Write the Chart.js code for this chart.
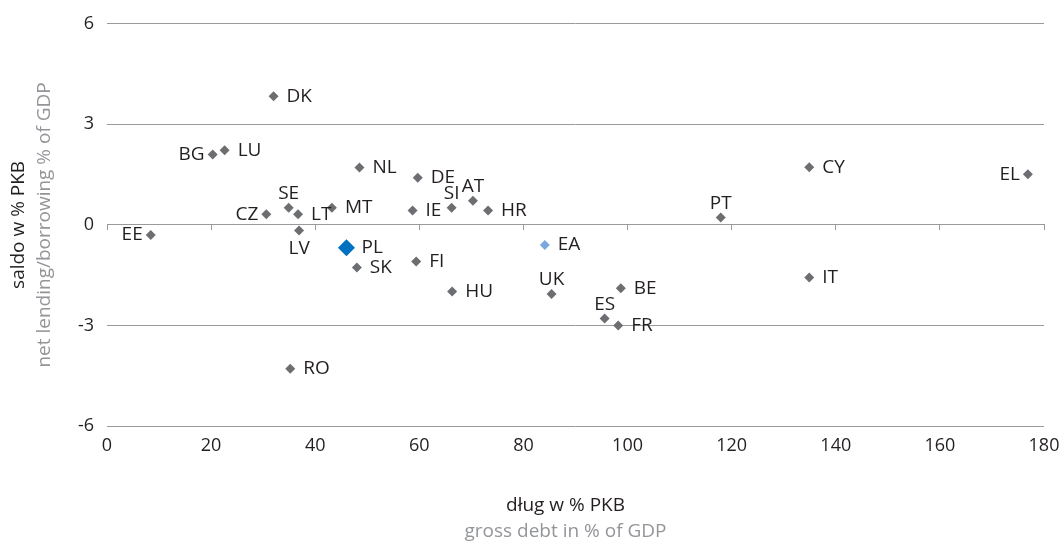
<!DOCTYPE html>
<html>
<head>
<meta charset="utf-8">
<script src="https://cdn.jsdelivr.net/npm/chart.js@4.4.1/dist/chart.umd.min.js"></script>
<style>
  html, body { margin: 0; padding: 0; background: #fff; }
</style>
</head>
<body>
<canvas id="debtChart" width="1064" height="544"></canvas>
<script>
// country codes, gross debt (% GDP) and net lending/borrowing (% GDP)
const countries = ['DK', 'BG', 'LU', 'NL', 'DE', 'CY', 'EL', 'SE', 'CZ', 'LT', 'MT', 'IE', 'SI', 'AT', 'HR',
  'PT', 'EE', 'LV', 'SK', 'FI', 'HU', 'UK', 'BE', 'IT', 'ES', 'FR', 'RO', 'EA', 'PL']
const debt = [32.0, 20.3, 22.6, 48.5, 59.7, 134.9, 176.9, 34.9, 30.6, 36.7, 43.2, 58.7, 66.2, 70.3, 73.2,
  117.9, 8.4, 36.9, 48.0, 59.4, 66.3, 85.4, 98.7, 134.9, 95.6, 98.2, 35.2, 84.1, 46.0]
const balance = [3.84, 2.10, 2.23, 1.71, 1.41, 1.72, 1.51, 0.51, 0.32, 0.32, 0.51, 0.43, 0.51, 0.72, 0.43,
  0.22, -0.30, -0.17, -1.27, -1.09, -1.99, -2.06, -1.89, -1.57, -2.79, -3.00, -4.29, -0.60, -0.68]
const xTicks = [0, 180, 20]
const yTicks = [-6, 6, 3]

// where a label sits next to its marker (default: right)
const labelSide = {BG: 'left', CZ: 'left', EE: 'left', EL: 'left', SE: 'top', SI: 'top', AT: 'top',
  PT: 'top', UK: 'top', ES: 'top', LV: 'bottom'}

const FONT = "'Open Sans', 'Noto Sans', sans-serif"
const DARK = '#231f20'
const GREY_TEXT = '#939598'
const GRID = '#9a9a9a'
const MARK = '#6d6e71'

const pointColor = (c) => c === 'PL' ? '#0070c0' : (c === 'EA' ? '#7ba7dc' : MARK)

const pointLabels = {
  id: 'pointLabels',
  afterDatasetsDraw(chart) {
    const ctx = chart.ctx
    const meta = chart.getDatasetMeta(0)
    ctx.save()
    ctx.font = '19px ' + FONT
    ctx.fillStyle = DARK
    ctx.textBaseline = 'middle'
    meta.data.forEach((pt, i) => {
      const side = labelSide[countries[i]] || 'right'
      let x = pt.x, y = pt.y
      if (side === 'right') { ctx.textAlign = 'left'; x += countries[i] === 'PL' ? 15 : 13 }
      if (side === 'left') { ctx.textAlign = 'right'; x -= 8 }
      if (side === 'top') { ctx.textAlign = 'center'; y -= 14 }
      if (side === 'bottom') { ctx.textAlign = 'center'; y += 18 }
      ctx.fillText(countries[i], x, y)
    })
    ctx.restore()
  }
}

const axisTitles = {
  id: 'axisTitles',
  afterDraw(chart) {
    const ctx = chart.ctx
    const a = chart.chartArea
    const midY = (a.top + a.bottom) / 2
    const midX = (a.left + a.right) / 2
    ctx.save()
    ctx.font = '19px ' + FONT
    ctx.textAlign = 'center'
    ctx.textBaseline = 'middle'
    ctx.fillStyle = DARK
    ctx.fillText('dług w % PKB', midX - 10, 506)
    ctx.fillStyle = GREY_TEXT
    ctx.fillText('gross debt in % of GDP', midX - 10, 532)
    ctx.translate(19, midY)
    ctx.rotate(-Math.PI / 2)
    ctx.fillStyle = DARK
    ctx.fillText('saldo w % PKB', 0, 0)
    ctx.fillStyle = GREY_TEXT
    ctx.fillText('net lending/borrowing % of GDP', 0, 26)
    ctx.restore()
  }
}

new Chart(document.getElementById('debtChart'), {
  type: 'scatter',
  data: {
    datasets: [{
      data: countries.map((c, i) => ({x: debt[i], y: balance[i]})),
      pointStyle: 'rectRot',
      pointRadius: (ctx) => countries[ctx.dataIndex] === 'PL' ? 8.5 : 5,
      pointBackgroundColor: (ctx) => pointColor(countries[ctx.dataIndex]),
      pointBorderColor: (ctx) => pointColor(countries[ctx.dataIndex]),
      pointBorderWidth: 0,
    }],
  },
  options: {
    responsive: false,
    animation: false,
    layout: {padding: {top: 23, right: 20, left: 0, bottom: 0}},
    plugins: {legend: {display: false}, tooltip: {enabled: false}},
    scales: {
      x: {
        type: 'linear',
        min: xTicks[0],
        max: xTicks[1],
        ticks: {stepSize: xTicks[2], color: DARK, font: {family: FONT, size: 18}, padding: 9},
        grid: {display: false, drawTicks: false},
        border: {display: false},
        afterFit: (s) => { s.height = 118; s.paddingRight = 0; s.paddingLeft = 0 },
      },
      xZero: {
        type: 'linear',
        position: {y: 0},
        min: xTicks[0],
        max: xTicks[1],
        ticks: {stepSize: xTicks[2], display: false},
        grid: {drawOnChartArea: false, drawTicks: true, tickLength: 5, color: GRID},
        border: {display: true, color: GRID, width: 1},
      },
      y: {
        type: 'linear',
        min: yTicks[0],
        max: yTicks[1],
        ticks: {stepSize: yTicks[2], color: DARK, font: {family: FONT, size: 18}, padding: 13},
        grid: {color: GRID, drawTicks: false},
        border: {display: false},
        afterFit: (s) => { s.width = 107 },
      },
    },
  },
  plugins: [pointLabels, axisTitles],
})
</script>
</body>
</html>
